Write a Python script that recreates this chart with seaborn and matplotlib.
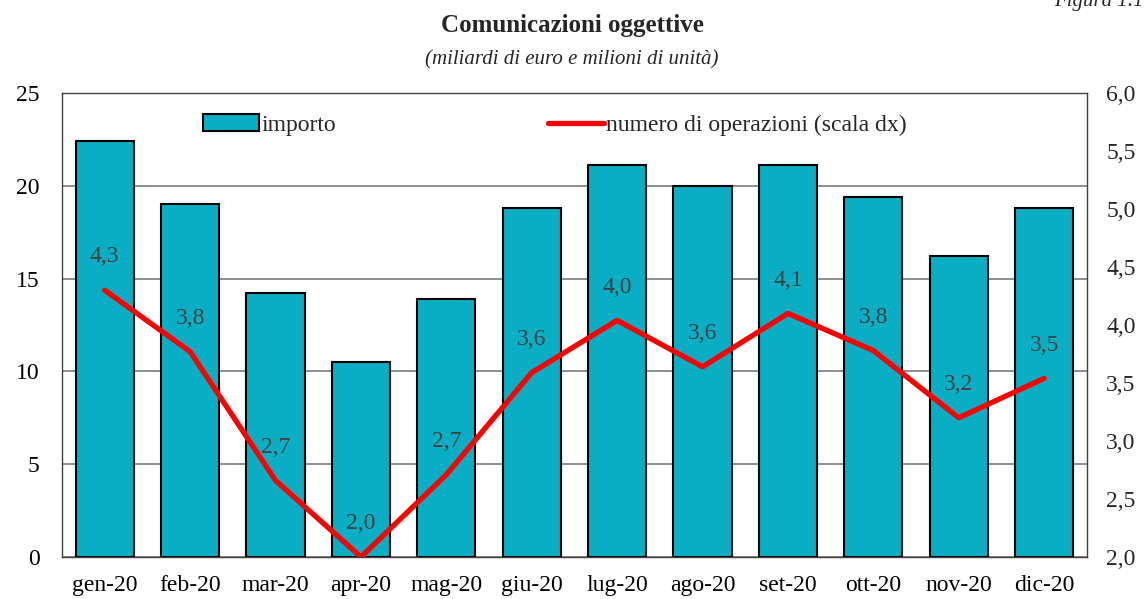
import numpy as np
import pandas as pd
import matplotlib
matplotlib.use("Agg")
from matplotlib import pyplot as plt
from matplotlib.patches import Patch
from matplotlib.lines import Line2D
import seaborn as sns

mesi = ["gen-20", "feb-20", "mar-20", "apr-20", "mag-20", "giu-20",
        "lug-20", "ago-20", "set-20", "ott-20", "nov-20", "dic-20"]
importo = [22.4, 19.0, 14.2, 10.5, 13.9, 18.8, 21.1, 20.0, 21.1, 19.4, 16.2, 18.8]
operazioni = [4.30, 3.77, 2.66, 2.00, 2.71, 3.59, 4.04, 3.64, 4.10, 3.78, 3.20, 3.54]

sns.set_theme(style="white")
plt.rcParams['font.family'] = ['Liberation Serif', 'DejaVu Serif']

df = pd.DataFrame({"mese": mesi, "importo": importo, "operazioni": operazioni})

fig = plt.figure(figsize=(11.44, 5.99), dpi=100)
ax = fig.add_axes([0.0542, 0.0701, 0.8958, 0.7746])

sns.barplot(data=df, x="mese", y="importo", ax=ax, color="#0AAEC4",
            saturation=1, width=0.68, edgecolor="black", linewidth=1.5, zorder=2)
ax.set_ylim(0, 25)
ax.set_yticks([0, 5, 10, 15, 20, 25])
ax.set_xlabel("")
ax.set_ylabel("")
ax.yaxis.grid(True, color="#7a7a7a", linewidth=1.2, zorder=0)
ax.set_axisbelow(True)
ax.tick_params(axis="y", length=0, labelsize=17, colors="black", pad=16)
ax.tick_params(axis="x", length=0, labelsize=17, colors="black", pad=13)
for s in ax.spines.values():
    s.set_color("#404040")
    s.set_linewidth(1.0)

ax2 = ax.twinx()
sns.lineplot(x=np.arange(len(mesi)), y=operazioni, ax=ax2, color="#FF0000",
             linewidth=3.8, zorder=3)
ax2.set_ylim(2.0, 6.0)
ax2.set_yticks(np.arange(2.0, 6.01, 0.5))
ax2.set_yticklabels([f"{v:.1f}".replace(".", ",") for v in np.arange(2.0, 6.01, 0.5)])
ax2.tick_params(axis="y", length=0, labelsize=17, pad=14)
ax2.set_xlim(-0.5, len(mesi) - 0.5)
for s in ax2.spines.values():
    s.set_visible(False)

for i, v in enumerate(operazioni):
    ax2.annotate(f"{v:.1f}".replace(".", ","), (i, v), xytext=(0, 24),
                 textcoords="offset points", ha="center", va="center",
                 fontsize=17, color="#404040")

handles = [Patch(facecolor="#0AAEC4", edgecolor="black", linewidth=1.5),
           Line2D([0], [0], color="#FF0000", linewidth=3.8)]
ax2.legend(handles, ["importo", "numero di operazioni (scala dx)"], ncol=2,
           loc="upper left", bbox_to_anchor=(0.117, 1.0), frameon=False,
           fontsize=17, columnspacing=9.0, handlelength=2.35, handletextpad=0.1)

fig.text(0.5, 0.957, "Comunicazioni oggettive", ha="center", va="center",
         fontsize=18, fontweight="bold")
fig.text(0.5, 0.9, "(miliardi di euro e milioni di unità)", ha="center",
         va="center", fontsize=15, style="italic")
fig.text(1.0, 0.998, "Figura 1.1", ha="right", va="center", fontsize=15,
         style="italic")

fig.savefig("out.png", dpi=100)
